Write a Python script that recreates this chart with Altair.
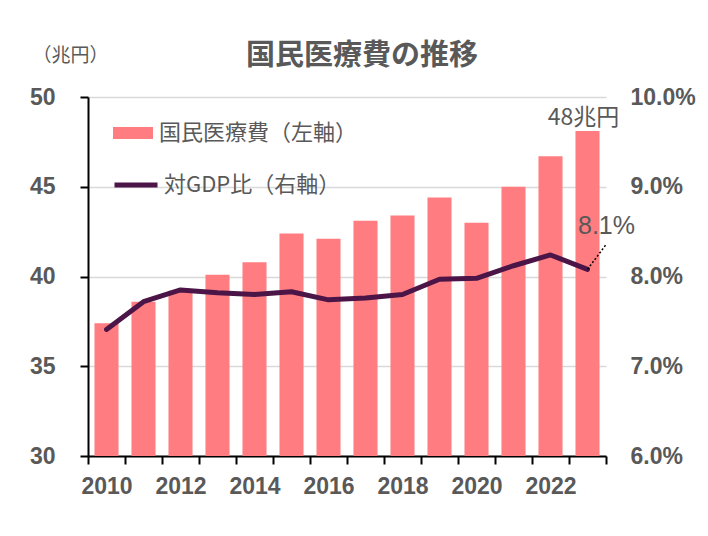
import altair as alt
import pandas as pd

years = list(range(2010, 2024))
expenditure = [37.4, 38.6, 39.2, 40.1, 40.8, 42.4, 42.1, 43.1, 43.4, 44.4, 43.0, 45.0, 46.7, 48.1]
gdp_ratio = [7.41, 7.72, 7.85, 7.82, 7.80, 7.83, 7.74, 7.76, 7.80, 7.97, 7.98, 8.12, 8.24, 8.08]
series_bar = "国民医療費（左軸）"
series_line = "対GDP比（右軸）"
title_text = "国民医療費の推移"
unit_text = "（兆円）"

df = pd.DataFrame({"year": years, "exp": expenditure, "ratio": gdp_ratio})
df["s_bar"] = series_bar
df["s_line"] = series_line

TXT = "#595959"
NUM_FONT = "Liberation Sans"
JP_FONT = "Noto Sans CJK JP"
AX_SIZE = 23

base = alt.Chart(df)

xenc = alt.X(
    "year:O",
    scale=alt.Scale(paddingInner=0, paddingOuter=0),
    axis=alt.Axis(
        title=None,
        labelExpr="datum.value % 2 == 0 ? datum.label : ''",
        labelAngle=0,
        labelFont=NUM_FONT,
        labelFontSize=AX_SIZE,
        labelFontWeight="bold",
        labelColor=TXT,
        labelPadding=11,
        tickBand="extent",
        tickSize=8,
        tickColor="black",
        tickWidth=2,
        domainColor="black",
        domainWidth=2,
        grid=False,
    ),
)

bars = base.mark_bar(color="#FF7C80", width=alt.RelativeBandSize(0.65)).encode(
    x=xenc,
    y=alt.Y(
        "exp:Q",
        scale=alt.Scale(domain=[30, 50], zero=False, nice=False),
        axis=alt.Axis(
            values=[30, 35, 40, 45, 50],
            title=unit_text,
            titleAngle=0,
            titleFont=JP_FONT,
            titleFontSize=19,
            titleFontWeight="normal",
            titleColor=TXT,
            titleX=-18,
            titleY=-42,
            titleAlign="center",
            titleBaseline="middle",
            labelFont=NUM_FONT,
            labelFontSize=AX_SIZE,
            labelFontWeight="bold",
            labelColor=TXT,
            labelPadding=25,
            tickSize=8,
            tickColor="black",
            tickWidth=2,
            domainColor="black",
            domainWidth=2,
            grid=True,
            gridColor="#D9D9D9",
            gridWidth=1.5,
        ),
    ),
    y2=alt.datum(30),
    fill=alt.Fill(
        "s_bar:N",
        scale=alt.Scale(range=["#FF7C80"]),
        legend=alt.Legend(
            title=None,
            orient="none",
            legendX=25,
            legendY=16,
            symbolType="M-1,-0.3H1V0.3H-1Z",
            symbolSize=1600,
            symbolStrokeWidth=0,
            labelFont=JP_FONT,
            labelFontSize=22,
            labelColor=TXT,
            labelOffset=6,
            labelLimit=0,
            padding=0,
        ),
    ),
)

y_right = alt.Y(
    "ratio:Q",
    scale=alt.Scale(domain=[6, 10], zero=False, nice=False),
    axis=alt.Axis(
        orient="right",
        values=[6, 7, 8, 9, 10],
        labelExpr="format(datum.value, '.1f') + '%'",
        title=None,
        labelFont=NUM_FONT,
        labelFontSize=AX_SIZE,
        labelFontWeight="bold",
        labelColor=TXT,
        labelPadding=24,
        ticks=False,
        domain=False,
        grid=False,
    ),
)

line = base.mark_line(strokeWidth=5, strokeCap="round", strokeJoin="round").encode(
    x=xenc,
    y=y_right,
    stroke=alt.Stroke(
        "s_line:N",
        scale=alt.Scale(range=["#4B1548"]),
        legend=alt.Legend(
            title=None,
            orient="none",
            legendX=24,
            legendY=64,
            symbolType="stroke",
            symbolSize=1849,
            symbolStrokeWidth=5,
            labelFont=JP_FONT,
            labelFontSize=22,
            labelColor=TXT,
            labelOffset=4,
            labelLimit=0,
            padding=0,
        ),
    ),
)

last = base.transform_filter(alt.datum.year == years[-1])

leader = last.mark_rule(
    color="black", strokeWidth=1.5, strokeDash=[2, 2], x2Offset=18, y2Offset=-24
).encode(x="year:O", x2="year:O", y="ratio:Q", y2="ratio:Q")

ratio_label = last.transform_calculate(
    lab="format(datum.ratio, '.1f') + '%'"
).mark_text(
    font=NUM_FONT, fontSize=25, color=TXT, dx=19, dy=-43, baseline="middle", align="center"
).encode(x="year:O", y="ratio:Q", text="lab:N")

right_layer = alt.layer(line, leader, ratio_label)

exp_label = last.transform_calculate(
    lab="format(datum.exp, '.0f') + '兆円'"
).mark_text(
    font=JP_FONT, fontSize=23, color=TXT, dx=-4, dy=-13, baseline="middle", align="center"
).encode(x="year:O", y="exp:Q", text="lab:N")

left_layer = alt.layer(bars, exp_label)

chart = alt.layer(left_layer, right_layer).resolve_scale(
    y="independent", fill="independent", stroke="independent"
).properties(
    width=518,
    height=359,
    padding={"left": 80, "top": 89, "right": 94, "bottom": 72},
    autosize=alt.AutoSizeParams(type="none"),
    title=alt.Title(
        title_text,
        font=JP_FONT,
        fontSize=29,
        fontWeight="bold",
        color=TXT,
        anchor="middle",
        dx=15,
        dy=29,
    ),
).configure(background="white").configure_view(stroke=None)

chart.save("out.html", embed_options={"renderer": "svg", "actions": False})
